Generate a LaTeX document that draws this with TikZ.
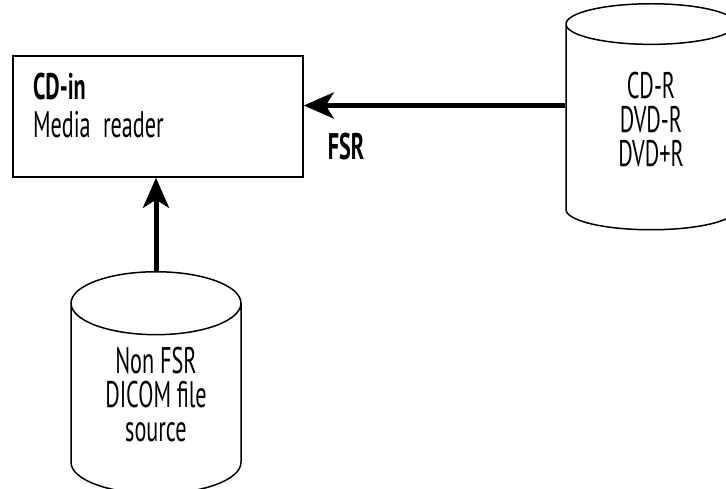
\documentclass[tikz,border=0pt]{standalone}
\usepackage{fontspec}
\setmainfont{PT Sans}[FakeStretch=0.6]
\usepackage{tikz}
\usetikzlibrary{arrows.meta,positioning,shapes.geometric}
\tikzset{
  % Base styles
  diagram base/.style={
    x=1pt, y=-1pt,
  },
  diagram font/.style={font=\fontsize{37}{34}\selectfont},
  % Media nodes
  reader box/.style={rectangle, draw, diagram font, line width=1.5pt, minimum width=290pt, minimum height=121pt,
    text width=250pt, inner xsep=20pt, align=left, text depth=60pt},
  store disc/.style={cylinder, shape border rotate=90, draw, diagram font, line width=1.5pt, aspect=0.62,
    minimum width=170pt, align=center, inner sep=0pt, anchor=north},
  % Connectors
  flow arrow/.style={line width=5pt, -{Stealth[length=30pt,width=26pt,inset=8pt]}},
  flow label/.style={font=\fontsize{37}{34}\selectfont\bfseries},
}

\begin{document}
\begin{tikzpicture}[diagram base]
  \useasboundingbox (0,0) rectangle (726,489);
  \node[reader box] (reader) at (158,116.5) {\textbf{CD-in}\\[4pt]Media reader};
  \node[store disc, minimum height=226pt, text height=79pt] (disc) at (651,3) {CD-R\\DVD-R\\DVD+R};
  \node[store disc, minimum height=222pt, text height=86pt] (source) at (156,271) {Non FSR\\DICOM file\\source};
  \node[flow label] (fsr) at (346,147) {FSR};
  \draw[flow arrow] ([yshift=11pt]reader.east -| disc.west) -- ([yshift=11pt]reader.east);
  \draw[flow arrow] (source.north) -- (source.north |- reader.south);
\end{tikzpicture}
\end{document}
